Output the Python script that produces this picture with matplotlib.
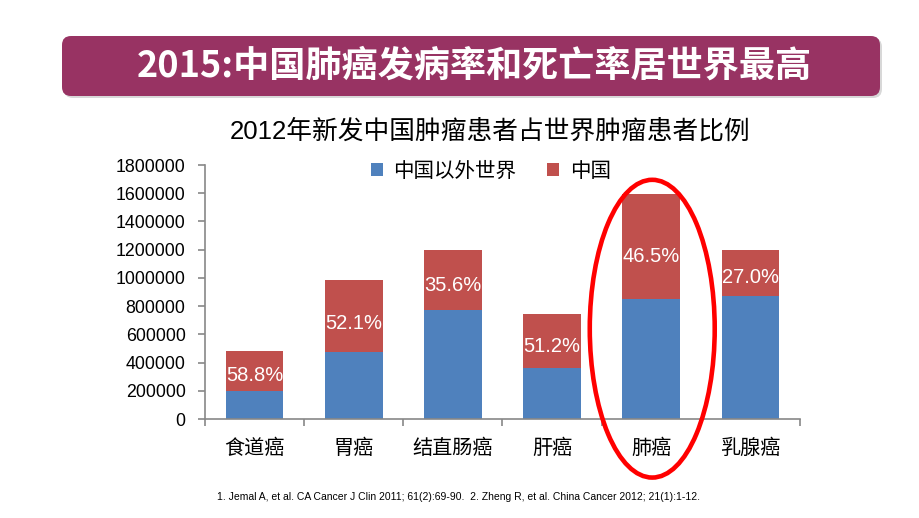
import matplotlib
matplotlib.use("Agg")
import matplotlib.pyplot as plt
from matplotlib.patches import FancyBboxPatch, Ellipse, Patch
from matplotlib.transforms import IdentityTransform
import numpy as np

plt.rcParams['font.family'] = ['Liberation Sans', 'Noto Sans CJK SC', 'DejaVu Sans']

categories = ['食道癌', '胃癌', '结直肠癌', '肝癌', '肺癌', '乳腺癌']
world_ex_china = [198000, 472000, 774000, 363000, 853000, 873000]
china = [283000, 513000, 427000, 381000, 742000, 323000]
pct_labels = ['58.8%', '52.1%', '35.6%', '51.2%', '46.5%', '27.0%']
yticks = [0, 200000, 400000, 600000, 800000, 1000000, 1200000, 1400000, 1600000, 1800000]
series_names = ['中国以外世界', '中国']

banner_title = '2015:中国肺癌发病率和死亡率居世界最高'
chart_title = '2012年新发中国肿瘤患者占世界肿瘤患者比例'
footnote = '1. Jemal A, et al. CA Cancer J Clin 2011; 61(2):69-90.  2. Zheng R, et al. China Cancer 2012; 21(1):1-12.'

BLUE = '#4F81BD'
RED = '#C0504D'
BANNER = '#983363'

W, H = 920, 518
fig = plt.figure(figsize=(W / 100, H / 100), dpi=100)

# banner
shadow = FancyBboxPatch((64, H - 98), 818, 60, boxstyle='round,pad=0,rounding_size=9',
                        transform=IdentityTransform(), facecolor='#d8d8d8', edgecolor='none', zorder=0)
fig.patches.append(shadow)
banner = FancyBboxPatch((62, H - 96), 818, 60, boxstyle='round,pad=0,rounding_size=9',
                        transform=IdentityTransform(), facecolor=BANNER, edgecolor='none', zorder=1)
fig.patches.append(banner)
fig.text(474 / W, 1 - 66 / H, banner_title, color='white', fontsize=26, fontweight='bold',
         ha='center', va='center', family=['Noto Sans CJK SC', 'DejaVu Sans'])

fig.text(490 / W, 1 - 131 / H, chart_title, color='black', fontsize=18.5,
         ha='center', va='center')

ax = fig.add_axes([205 / W, 1 - 419 / H, 595 / W, 254 / H])
x = np.arange(len(categories))
bw = 0.58
ax.bar(x, world_ex_china, bw, color=BLUE, label=series_names[0], zorder=2)
ax.bar(x, china, bw, bottom=world_ex_china, color=RED, label=series_names[1], zorder=2)

for xi, b, c, lab in zip(x, world_ex_china, china, pct_labels):
    ax.text(xi, b + c * 0.4, lab, color='white', fontsize=14.5, ha='center', va='center', zorder=3)

ax.set_xlim(-0.5, len(categories) - 0.5)
ax.set_ylim(0, 1800000)
ax.set_yticks(yticks)
ax.set_yticklabels([str(v) for v in yticks], fontsize=12.8)
ax.set_xticks(x)
ax.set_xticklabels(categories, fontsize=14.5)
ax.set_xticks(np.arange(-0.5, len(categories), 1.0), minor=True)
ax.tick_params(axis='x', which='major', length=0, pad=14)
ax.tick_params(axis='x', which='minor', length=5, color='#888888', width=1.2)
ax.tick_params(axis='y', length=5, color='#888888', width=1.2, pad=9)
for s in ['top', 'right']:
    ax.spines[s].set_visible(False)
for s in ['left', 'bottom']:
    ax.spines[s].set_color('#888888')
    ax.spines[s].set_linewidth(1.2)

handles = [Patch(facecolor=BLUE), Patch(facecolor=RED)]
ax.legend(handles, series_names, loc='center', bbox_to_anchor=(0.48, 0.975), ncol=2,
          frameon=False, fontsize=14.8, handlelength=0.6, handleheight=0.6,
          handletextpad=0.5, columnspacing=1.5)

# highlight ellipse around 肺癌
ell = Ellipse((4.01, 640000), 1.26, 2110000, fill=False, edgecolor='#FF0000', linewidth=3.3,
              clip_on=False, zorder=5)
ax.add_patch(ell)

fig.text(217 / W, 1 - 497 / H, footnote, fontsize=7.5, ha='left', va='center',
         family=['Liberation Sans Narrow', 'Liberation Sans'])

fig.savefig('out.png', dpi=100)
